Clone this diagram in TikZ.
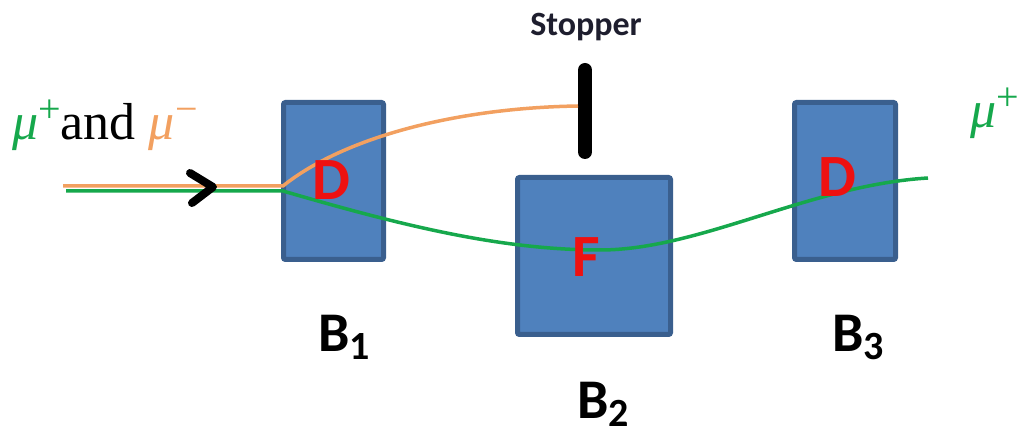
\documentclass[tikz,border=0pt]{standalone}
\usepackage{fontspec}
\setmainfont{Carlito}
\newfontfamily\serifu{Liberation Serif}
\usetikzlibrary{calc}
\definecolor{boxfill}{HTML}{4F81BD}
\definecolor{boxedge}{HTML}{3A5F8E}
\definecolor{mugreen}{HTML}{16A84C}
\definecolor{muorange}{HTML}{F2A060}
\definecolor{dfred}{HTML}{EE1111}
\definecolor{stopcol}{HTML}{1E1E2E}
\tikzset{
  magnet/.style={draw=boxedge, fill=boxfill, line width=5pt, rounded corners=2pt, inner sep=0pt},
  poleletter/.style={text=dfred, font=\fontsize{60}{62}\selectfont\bfseries, anchor=base, inner sep=0pt},
  blabel/.style={font=\fontsize{56}{60}\selectfont\bfseries, anchor=base west, inner sep=0pt},
  mulabel/.style={anchor=base west, inner sep=0pt, font=\serifu\fontsize{52}{54}\selectfont},
  track/.style={line width=3.5pt},
}
\newcommand{\mysub}[1]{\raisebox{-8pt}[\height][8pt]{\fontsize{40}{44}\selectfont #1}}
\newcommand{\mysup}[1]{\raisebox{17pt}{\fontsize{40}{42}\selectfont #1}}
\begin{document}
\begin{tikzpicture}[x=1pt,y=-1pt]
\useasboundingbox (0,0) rectangle (1021,438);
% magnets
\node[magnet, minimum width=100pt, minimum height=157pt] (B1) at (333.5,181) {};
\node[magnet, minimum width=153pt, minimum height=157pt] (B2) at (594,256) {};
\node[magnet, minimum width=101pt, minimum height=157pt] (B3) at (845,181) {};
% stopper
\node[font=\fontsize{34}{38}\selectfont\bfseries, text=stopcol, inner sep=0pt] (stoptext) at (586,27) {Stopper};
\coordinate (stoptop) at (585,70);
\coordinate (stopbot) at (585,152);
\draw[line width=14pt, line cap=round] (stoptop) -- (stopbot);
% tracks
\coordinate (ostart) at (63,186);
\coordinate (split) at (283,186);
\coordinate (ohit) at (578,106);
\coordinate (gstart) at (66,191);
\coordinate (gsplit) at (283,191);
\coordinate (gmid) at (600,250);
\coordinate (gend) at (928,178);
\draw[track, muorange] (ostart) -- (split) .. controls (340,140) and (450,108) .. (ohit);
\draw[track, mugreen] (gstart) -- (gsplit) .. controls (400,225) and (500,250) .. (gmid)
   .. controls (700,250) and (810,185) .. (gend);
% direction chevron
\coordinate (chA) at (190,173);
\coordinate (chB) at (213,187);
\coordinate (chC) at (192,203);
\draw[line width=8pt, line cap=round, line join=round] (chA) -- (chB) -- (chC);
% pole letters
\node[poleletter] (D1) at (331,200) {D};
\node[poleletter] (F2) at (586,277) {F};
\node[poleletter] (D3) at (837,197) {D};
% magnet labels
\node[blabel] (L1) at (318,352) {B\mysub{1}};
\node[blabel] (L2) at (577,419) {B\mysub{2}};
\node[blabel] (L3) at (832,352) {B\mysub{3}};
% particle labels
\node[mulabel] (inlabel) at (12,140)
  {\textcolor{mugreen}{\textit{μ}\mysup{+}}and \textcolor{muorange}{\textit{μ}\mysup{−}}};
\node[mulabel] (outlabel) at (970,128)
  {\textcolor{mugreen}{\textit{μ}\mysup{+}}};
\end{tikzpicture}
\end{document}
